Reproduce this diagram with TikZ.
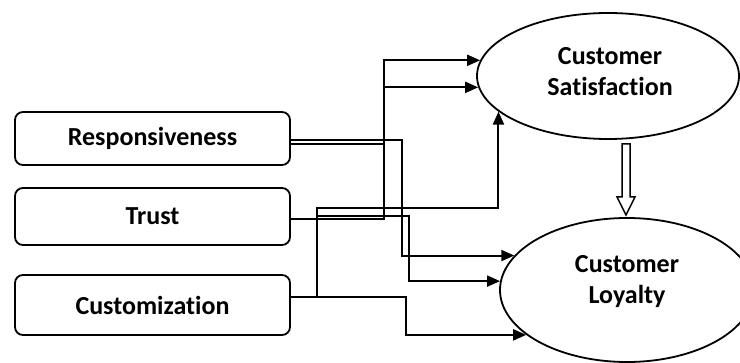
\documentclass[tikz,border=0pt]{standalone}
\usepackage{fontspec}
\setmainfont{Carlito}[Ligatures={NoCommon}]
\usetikzlibrary{arrows.meta,shapes.geometric}
\begin{document}
\begin{tikzpicture}[x=1pt,y=-1pt,
  box/.style={draw, line width=1.8pt, rounded corners=8pt, minimum width=275pt, inner sep=0pt, font=\fontsize{26}{30}\selectfont\bfseries},
  oval/.style={draw, line width=1.8pt, ellipse, inner sep=0pt},
  lbl/.style={align=center, font=\fontsize{26}{31}\selectfont\bfseries},
  conn/.style={line width=2pt},
  arr/.style={conn, -{Triangle[length=13pt,width=11pt]}},
  hollow/.style={draw, line width=1.5pt, fill=white}]
\useasboundingbox (0,0) rectangle (740,363);
\node[box, minimum height=53pt] (resp) at (152.5,138.5) {Responsiveness};
\node[box, minimum height=57pt] (trust) at (152.5,216.5) {Trust};
\node[box, minimum height=60pt] (cust) at (152.5,305) {Customization};
\node[oval, minimum width=262pt, minimum height=126pt] (sat) at (608,76) {};
\node[lbl] (satt) at (610,72) {Customer\\Satisfaction};
\node[oval, minimum width=254pt, minimum height=144pt] (loy) at (627,290) {};
\node[lbl] (loyt) at (627,282) {Customer\\Loyalty};
% connectors
\draw[arr] ([yshift=-5.5pt]resp.east) -- (384,144) |- (sat.173.3);
\draw[arr] ([yshift=-2.5pt]trust.east) -- (384,219) |- (sat.185.4);
\draw[arr] ([yshift=-1.5pt]resp.east) -- (402,140) |- (loy.163.7);
\draw[arr] ([yshift=8pt]cust.east) -- (317,297) -- (317,208) -| (sat.198.4);
\draw[arr] ([yshift=8pt]cust.east) -- (317,297) -- (317,216) -- (409,216) |- (loy.176.4);
\draw[arr] ([yshift=8pt]cust.east) -- (406,297) |- (loy.204.4);
% hollow arrow
\path[hollow] (622,144) -- (630,144) -- (630,197) -- (635,197) -- (626,215)
  -- (617,197) -- (622,197) -- cycle;
\end{tikzpicture}
\end{document}
